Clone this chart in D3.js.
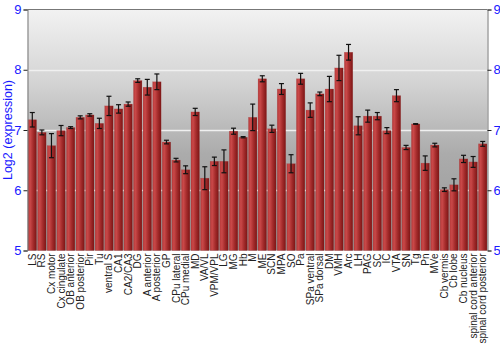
<!DOCTYPE html>
<html><head><meta charset="utf-8">
<script src="https://cdn.jsdelivr.net/npm/d3@7"></script>
<style>body{margin:0;background:#fff;}svg{display:block;font-family:"Liberation Sans",Arial,sans-serif;}</style>
</head><body>
<svg id="c" width="500" height="350"></svg>
<script>
const categories = ["LS","RS","Cx motor","Cx cingulate","OB anterior","OB posterior","Pir","Tu","ventral S","CA1","CA2/CA3","DG","A anterior","A posterior","GP","CPu lateral","CPu medial","MD","VA/VL","VPM/VPL","LG","MG","Hb","M","ME","SCN","MPA","SO","Pa","SPa ventral","SPa dorsal","DM","VMH","Arc","LH","PAG","SC","IC","VTA","SN","Tg","Pn","MVe","Cb vermis","Cb lobe","Cb nucleus","spinal cord anterior","spinal cord posterior"];
const values = [7.17,6.96,6.74,6.99,7.04,7.21,7.25,7.11,7.40,7.35,7.43,7.82,7.71,7.80,6.80,6.50,6.34,7.30,6.20,6.48,6.48,6.98,6.88,7.21,7.85,7.02,7.68,6.44,7.85,7.33,7.60,7.68,8.03,8.29,7.07,7.23,7.23,6.99,7.57,6.71,7.10,6.45,6.75,6.01,6.09,6.52,6.47,6.77];
const errors = [0.12,0.04,0.2,0.085,0.015,0.025,0.02,0.085,0.16,0.07,0.035,0.03,0.13,0.13,0.03,0.03,0.065,0.06,0.19,0.07,0.19,0.05,0.01,0.22,0.05,0.06,0.09,0.15,0.09,0.12,0.03,0.21,0.21,0.13,0.15,0.1,0.06,0.05,0.1,0.035,0.005,0.12,0.03,0.03,0.1,0.06,0.09,0.04];
const yTicks = [5,6,7,8,9];
const yTitle = "Log2 (expression)";

const svg = d3.select("#c");
const L = 27.5, R = 487.5, T = 9.5, B = 250.5;
const x = d3.scaleBand().domain(categories).range([L, R]).paddingInner(0.12).paddingOuter(0.06);
const y = d3.scaleLinear().domain([5, 9]).range([B, T]);

const defs = svg.append("defs");
const bg = defs.append("linearGradient").attr("id","bg").attr("x1",0).attr("y1",0).attr("x2",0).attr("y2",1);
bg.append("stop").attr("offset","0%").attr("stop-color","#f2f2f2");
bg.append("stop").attr("offset","30%").attr("stop-color","#d4d4d4");
bg.append("stop").attr("offset","60%").attr("stop-color","#ababab");
bg.append("stop").attr("offset","100%").attr("stop-color","#979797");
const bar = defs.append("linearGradient").attr("id","bar").attr("x1",0).attr("y1",0).attr("x2",1).attr("y2",0);
bar.append("stop").attr("offset","0%").attr("stop-color","#b83a3a");
bar.append("stop").attr("offset","25%").attr("stop-color","#c94848");
bar.append("stop").attr("offset","60%").attr("stop-color","#a52c2c");
bar.append("stop").attr("offset","100%").attr("stop-color","#7c1515");

svg.append("rect").attr("x",L).attr("y",T).attr("width",R-L).attr("height",B-T).attr("fill","url(#bg)");

// gridlines
svg.append("g").selectAll("line").data(yTicks.filter(d=>d>5 && d<9)).join("line")
  .attr("x1",L).attr("x2",R).attr("y1",d=>Math.round(y(d))+0.5).attr("y2",d=>Math.round(y(d))+0.5)
  .attr("stroke","#f0f0f0").attr("stroke-width",1.5);

// bars
svg.append("g").selectAll("rect").data(categories).join("rect")
  .attr("x",(d)=>x(d)).attr("width",x.bandwidth())
  .attr("y",(d,i)=>y(values[i])).attr("height",(d,i)=>y(5)-y(values[i]))
  .attr("fill","url(#bar)").attr("stroke","#9a3030").attr("stroke-opacity",0.4).attr("stroke-width",0.5);

// error bars
const eg = svg.append("g").attr("stroke","#111").attr("stroke-width",1.2);
categories.forEach((c,i)=>{
  const cx = x(c)+x.bandwidth()/2;
  const y1 = y(values[i]+errors[i]), y2 = y(values[i]-errors[i]);
  eg.append("line").attr("x1",cx).attr("x2",cx).attr("y1",y1).attr("y2",y2);
  eg.append("line").attr("x1",cx-2.5).attr("x2",cx+2.5).attr("y1",y1).attr("y2",y1);
  eg.append("line").attr("x1",cx-2.5).attr("x2",cx+2.5).attr("y1",y2).attr("y2",y2);
});

// frame top
svg.append("line").attr("x1",L).attr("x2",R).attr("y1",T).attr("y2",T).attr("stroke","#777");

// axes
const fmt = d3.format("d");
const yl = svg.append("g").attr("transform",`translate(${L},0)`).call(d3.axisLeft(y).tickValues(yTicks).tickFormat(fmt).tickSize(4).tickPadding(2));
const yr = svg.append("g").attr("transform",`translate(${R},0)`).call(d3.axisRight(y).tickValues(yTicks).tickFormat(fmt).tickSize(4).tickPadding(2));
[yl,yr].forEach(g=>{
  g.select(".domain").attr("stroke","#777");
  g.selectAll(".tick line").attr("stroke","#222");
  g.selectAll("text").attr("fill","#1a1aff").attr("font-size",13).attr("font-family","Liberation Sans, Arial, sans-serif");
});

// x labels
const xa = svg.append("g").attr("transform",`translate(0,${B})`).call(d3.axisBottom(x).tickSize(0));
xa.select(".domain").remove();
xa.selectAll("text").attr("transform","rotate(-90)").attr("text-anchor","end")
  .attr("x",-3).attr("y",0).attr("dy","0.35em").attr("fill","#222").attr("font-size",10)
  .attr("font-family","Liberation Sans, Arial, sans-serif");

svg.append("text").attr("transform",`translate(12,${(T+B)/2}) rotate(-90)`).attr("text-anchor","middle")
  .attr("fill","#1a1aff").attr("font-size",12.5).text(yTitle);
</script>
</body></html>
